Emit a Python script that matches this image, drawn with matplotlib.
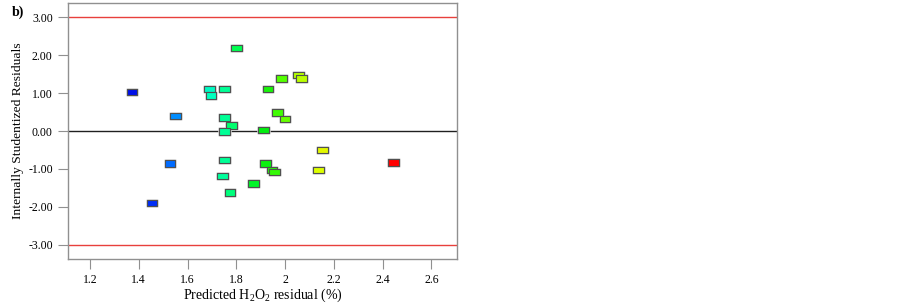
import matplotlib
matplotlib.use("Agg")
import matplotlib.pyplot as plt
import matplotlib.patheffects as pe
from matplotlib.colors import LinearSegmentedColormap, Normalize
from matplotlib.path import Path
import numpy as np

# Data
predicted = [1.372, 1.454, 1.55, 1.528, 1.69, 1.696, 1.753, 1.753, 1.78, 1.753,
             1.753, 1.745, 1.774, 1.80, 1.93, 1.986, 2.055, 2.068, 1.97, 2.0,
             1.913, 1.92, 1.946, 1.957, 1.871, 2.155, 2.136, 2.446]
residuals = [1.03, -1.89, 0.40, -0.85, 1.10, 0.93, 1.10, 0.36, 0.14, -0.01,
             -0.76, -1.18, -1.62, 2.18, 1.10, 1.38, 1.47, 1.38, 0.49, 0.32,
             0.03, -0.85, -1.03, -1.08, -1.38, -0.50, -1.03, -0.83]
xticks = [1.2, 1.4, 1.6, 1.8, 2.0, 2.2, 2.4, 2.6]
xtick_labels = ["1.2", "1.4", "1.6", "1.8", "2", "2.2", "2.4", "2.6"]
yticks = [-3, -2, -1, 0, 1, 2, 3]
ytick_labels = ["-3.00", "-2.00", "-1.00", "0.00", "1.00", "2.00", "3.00"]
limit = 3.0

plt.rcParams['font.family'] = ['Liberation Serif', 'DejaVu Serif']
plt.rcParams['mathtext.fontset'] = 'custom'
plt.rcParams['mathtext.rm'] = 'Liberation Serif'
plt.rcParams['mathtext.it'] = 'Liberation Serif:italic'
plt.rcParams['mathtext.bf'] = 'Liberation Serif:bold'

fig = plt.figure(figsize=(9.03, 3.05), dpi=100)
ax = fig.add_axes([68/903, 46/305, (457-68)/903, (259-3)/305])

ax.set_xlim(1.11, 2.705)
ax.set_ylim(-3.37, 3.37)

ax.axhline(limit, color='#e8403c', lw=1.0, zorder=1)
ax.axhline(-limit, color='#e8403c', lw=1.0, zorder=1)
ax.axhline(0, color='#202020', lw=1.0, zorder=1)

cmap = LinearSegmentedColormap.from_list(
    'de', [(0.0, '#0010e8'), (0.12, '#0040ff'), (0.17, '#0096ff'),
           (0.30, '#00ffc0'), (0.36, '#00ff90'), (0.40, '#00ff50'),
           (0.50, '#00ee10'), (0.57, '#50ff00'), (0.63, '#b0ff00'),
           (0.72, '#e0ff00'), (0.85, '#ff9000'), (1.0, '#ff0000')])
norm = Normalize(vmin=min(predicted), vmax=max(predicted))

rect = Path([(-0.5, -0.3), (0.5, -0.3), (0.5, 0.3), (-0.5, 0.3), (-0.5, -0.3)],
            [Path.MOVETO, Path.LINETO, Path.LINETO, Path.LINETO, Path.CLOSEPOLY])
sc = ax.scatter(predicted, residuals, c=predicted, cmap=cmap, norm=norm,
                marker=rect, s=60, edgecolors='#505050', linewidths=0.8, zorder=3)
sc.set_path_effects([pe.Stroke(linewidth=1.8, foreground='#d4d4d4'), pe.Normal()])

for s in ax.spines.values():
    s.set_color('#909090')
    s.set_linewidth(1.0)

ax.set_xticks(xticks)
ax.set_xticklabels(xtick_labels, fontsize=8.5)
ax.set_yticks(yticks)
ax.set_yticklabels(ytick_labels, fontsize=8.5)
ax.tick_params(axis='both', direction='out', length=7, width=0.8, color='#909090',
               pad=4)

ax.set_xlabel(r"Predicted H$_2$O$_2$ residual (%)", fontsize=10)
ax.xaxis.set_label_coords(0.5, -0.108)
ax.set_ylabel("Internally Studentized Residuals", fontsize=9.7, labelpad=3)

fig.text(12/903, 1 - 12/305, "b)", fontsize=10, fontweight='bold', va='center', ha='left')

fig.savefig("out.png", dpi=100)
